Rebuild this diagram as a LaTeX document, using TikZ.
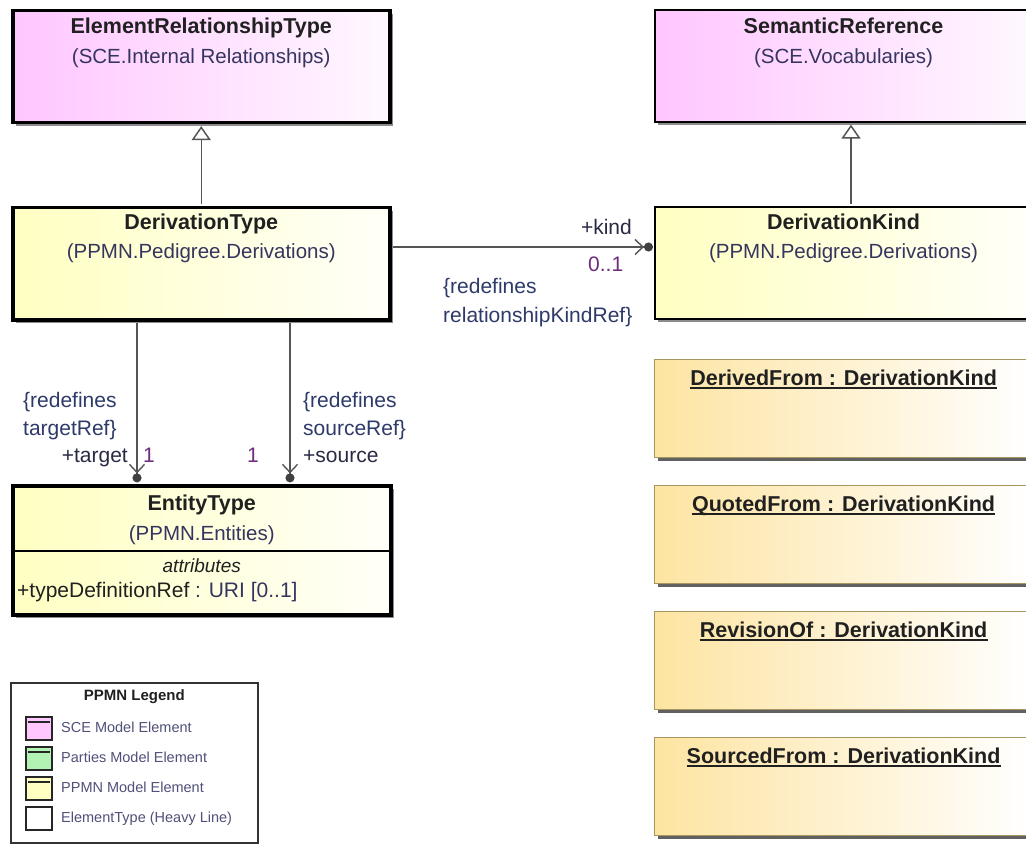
\documentclass[tikz,border=0pt]{standalone}
\usepackage{fontspec}
\setmainfont{Liberation Sans}
\usetikzlibrary{arrows.meta,shadows,calc}

\definecolor{sceL}{HTML}{FFC6FF}
\definecolor{sceR}{HTML}{FFF8FF}
\definecolor{ppmnL}{HTML}{FFFFC2}
\definecolor{ppmnR}{HTML}{FFFFF8}
\definecolor{instL}{HTML}{FDE4A2}
\definecolor{instB}{HTML}{A89660}
\definecolor{linkC}{HTML}{555555}
\definecolor{titleC}{HTML}{202020}
\definecolor{pkgC}{HTML}{35355F}
\definecolor{noteC}{HTML}{2E3B6A}
\definecolor{multC}{HTML}{6E2C7C}
\definecolor{roleC}{HTML}{2A2A44}
\definecolor{legC}{HTML}{50507A}
\definecolor{partiesC}{HTML}{B2F2B2}

\begin{document}
\begin{tikzpicture}[x=1pt,y=-1pt,
  box/.style={draw=black, rectangle, inner sep=0pt, anchor=north west,
    drop shadow={shadow xshift=3pt, shadow yshift=-3pt, fill=black, opacity=0.45}},
  heavy/.style={line width=3.5pt},
  light/.style={line width=2pt},
  sce/.style={left color=sceL, right color=sceR},
  ppmn/.style={left color=ppmnL, right color=ppmnR},
  cls/.style={box, minimum width=377pt, minimum height=112pt},
  inst/.style={box, draw=instB, line width=1.2pt, left color=instL, right color=white,
    minimum width=378pt, minimum height=98pt,
    drop shadow={shadow xshift=3pt, shadow yshift=-3pt, fill=black, opacity=0.3}},
  ttl/.style={font=\fontsize{21.5}{25}\selectfont\bfseries, text=titleC, anchor=base, inner sep=0pt},
  pkg/.style={font=\fontsize{20.5}{24}\selectfont, text=pkgC, anchor=base, inner sep=0pt},
  itl/.style={font=\fontsize{21.5}{25}\selectfont\bfseries, text=titleC, anchor=base, inner sep=0pt},
  note/.style={font=\fontsize{21}{25}\selectfont, text=noteC, anchor=base west, inner sep=0pt},
  role/.style={font=\fontsize{21}{25}\selectfont, text=roleC, inner sep=0pt},
  mult/.style={font=\fontsize{21}{25}\selectfont, text=multC, inner sep=0pt},
  gen/.style={draw=linkC, line width=1.5pt, shorten >=1.6pt, shorten <=1.6pt,
    -{Triangle[open, length=14pt, width=19pt, fill=white, line width=1.5pt]}},
  assoc/.style={draw=linkC, line width=1.5pt, shorten <=1.6pt,
    -{Straight Barb[length=8pt, width=15pt, line width=1.4pt] Circle[length=9pt, color=black!75]}},
  swatch/.style={draw=black!85, line width=1.6pt, rectangle, inner sep=0pt,
    minimum width=26pt, minimum height=23pt, anchor=north west},
  legtxt/.style={font=\fontsize{14.5}{17}\selectfont, text=legC, anchor=base west, inner sep=0pt},
]
\useasboundingbox (0,0) rectangle (1026,845);
\fill[white] (0,0) rectangle (1026,845);

\begin{scope}
\clip (0,0) rectangle (1026,845);

% ---- classes -------------------------------------------------------
\node[cls, heavy, sce]  (ert) at (11,9)   {};
\node[cls, light, sce]  (sr)  at (654,9)  {};
\node[cls, heavy, ppmn] (dt)  at (11,206) {};
\node[cls, light, ppmn] (dk)  at (654,206) {};
\node[box, heavy, ppmn, minimum width=378pt, minimum height=129pt] (et) at (11,484) {};

\node[ttl] (ertT) at ([yshift=-25pt]ert.north) {ElementRelationshipType};
\node[pkg] (ertP) at ([yshift=-55pt]ert.north) {(SCE.Internal Relationships)};
\node[ttl] (srT)  at ([yshift=-25pt]sr.north)  {SemanticReference};
\node[pkg] (srP)  at ([yshift=-55pt]sr.north)  {(SCE.Vocabularies)};
\node[ttl] (dtT)  at ([yshift=-24pt]dt.north)  {DerivationType};
\node[pkg] (dtP)  at ([yshift=-53pt]dt.north)  {(PPMN.Pedigree.Derivations)};
\node[ttl] (dkT)  at ([yshift=-24pt]dk.north)  {DerivationKind};
\node[pkg] (dkP)  at ([yshift=-53pt]dk.north)  {(PPMN.Pedigree.Derivations)};
\node[ttl] (etT)  at ([yshift=-26pt]et.north)  {EntityType};
\node[pkg] (etP)  at ([yshift=-56pt]et.north)  {(PPMN.Entities)};

% attribute compartment of EntityType
\coordinate (sepY) at (0,551);
\draw[line width=2.5pt] (et.west |- sepY) -- (et.east |- sepY);
\node[font=\fontsize{19}{22}\selectfont\itshape, text=titleC, anchor=base, inner sep=0pt]
  (etA) at ([yshift=-88pt]et.north) {attributes};
\node[font=\fontsize{21}{25}\selectfont, anchor=base west, inner sep=0pt]
  (etR) at ([xshift=6pt, yshift=-113pt]et.north west)
  {\textcolor{titleC}{+typeDefinitionRef}\ \textcolor{pkgC}{: URI [0..1]}};

% ---- instances -----------------------------------------------------
\node[inst] (i1) at (654,359) {};
\node[inst] (i2) at (654,485) {};
\node[inst] (i3) at (654,611) {};
\node[inst] (i4) at (654,737) {};
\node[itl] (i1T) at ([yshift=-26pt]i1.north) {DerivedFrom : DerivationKind};
\node[itl] (i2T) at ([yshift=-26pt]i2.north) {QuotedFrom : DerivationKind};
\node[itl] (i3T) at ([yshift=-26pt]i3.north) {RevisionOf : DerivationKind};
\node[itl] (i4T) at ([yshift=-26pt]i4.north) {SourcedFrom : DerivationKind};
\foreach \n in {i1T,i2T,i3T,i4T}
  \draw[titleC, line width=1.5pt] ([yshift=-3pt]\n.base west) -- ([yshift=-3pt]\n.base east);

% ---- generalizations -----------------------------------------------
\coordinate (gx) at (851,0);
\draw[gen] (dt.north) -- (ert.south);
\draw[gen] (dk.north -| gx) -- (sr.south -| gx);

% ---- associations --------------------------------------------------
\coordinate (ky) at (0,247);
\coordinate (tx) at (137,0);
\coordinate (sx) at (290,0);
\draw[assoc, shorten >=1pt] (dt.east |- ky) -- (dk.west |- ky);
\draw[assoc, shorten >=1.6pt] (dt.south -| tx) -- (et.north -| tx);
\draw[assoc, shorten >=1.6pt] (dt.south -| sx) -- (et.north -| sx);

% association end labels
\node[role, anchor=base east] (kindR) at (632,235) {+kind};
\node[mult, anchor=base west] (kindM) at (588,272) {0..1};
\node[note] (kindN1) at (443,294) {\{redefines};
\node[note] (kindN2) at (443,323) {relationshipKindRef\}};

\node[note] (tgtN1) at (23,407) {\{redefines};
\node[note] (tgtN2) at (23,435) {targetRef\}};
\node[role, anchor=base east] (tgtR) at (128,462) {+target};
\node[mult, anchor=base west] (tgtM) at (143,462) {1};

\node[note] (srcN1) at (303,407) {\{redefines};
\node[note] (srcN2) at (303,435) {sourceRef\}};
\node[role, anchor=base west] (srcR) at (303,462) {+source};
\node[mult, anchor=base west] (srcM) at (247,462) {1};

% ---- legend --------------------------------------------------------
\node[draw=black!80, line width=1.6pt, fill=white, rectangle, inner sep=0pt,
  minimum width=247pt, minimum height=160pt, anchor=north west] (leg) at (10,682) {};
\node[font=\fontsize{15}{18}\selectfont\bfseries, text=titleC, anchor=base, inner sep=0pt]
  (legT) at ([yshift=-18pt]leg.north) {PPMN Legend};
\node[swatch, fill=sceL]     (sw1) at (25,716) {};
\node[swatch, fill=partiesC] (sw2) at (25,746) {};
\node[swatch, fill=ppmnL]    (sw3) at (25,776) {};
\node[swatch, fill=white]    (sw4) at (25,806) {};
\foreach \s in {sw1,sw2,sw3}
  \draw[black!85, line width=1.6pt] ([xshift=3pt, yshift=-6pt]\s.north west) -- ([xshift=-3pt, yshift=-6pt]\s.north east);
\node[legtxt] (lg1) at (61,732) {SCE Model Element};
\node[legtxt] (lg2) at (61,762) {Parties Model Element};
\node[legtxt] (lg3) at (61,792) {PPMN Model Element};
\node[legtxt] (lg4) at (61,822) {ElementType (Heavy Line)};
\end{scope}
\end{tikzpicture}
\end{document}
